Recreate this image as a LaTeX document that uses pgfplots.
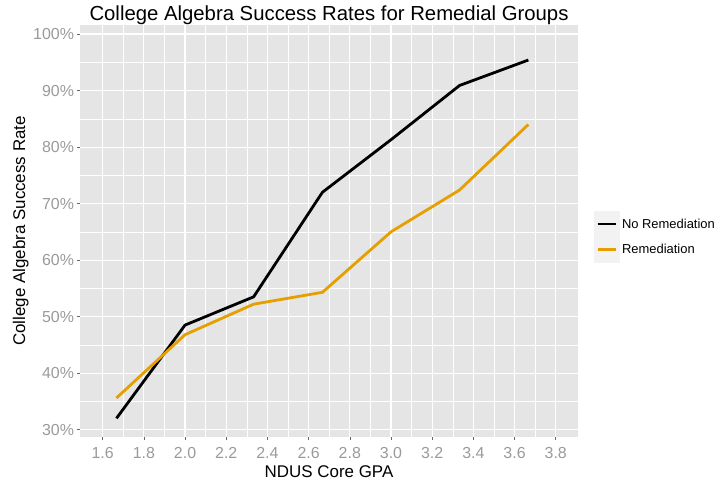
\documentclass[border=0pt]{standalone}
\usepackage{pgfplots}
\pgfplotsset{compat=1.18}
\usepackage{fontspec}
\setmainfont{Liberation Sans}
\definecolor{panel}{HTML}{E5E5E5}
\definecolor{tickgray}{HTML}{9A9A9A}
\definecolor{orng}{HTML}{E69F00}
\definecolor{keybg}{HTML}{F2F2F2}
\begin{document}
\begin{tikzpicture}[x=1bp,y=1bp]
\path[use as bounding box] (0,0) rectangle (717,483);
\begin{axis}[
  at={(80bp,46bp)}, anchor=south west,
  width=498bp, height=412bp, scale only axis,
  xmin=1.49, xmax=3.908, ymin=28.7, ymax=101.6,
  axis background/.style={fill=panel},
  axis line style={draw=none},
  xtick={1.6,1.8,2.0,2.2,2.4,2.6,2.8,3.0,3.2,3.4,3.6,3.8},
  minor xtick={1.7,1.9,2.1,2.3,2.5,2.7,2.9,3.1,3.3,3.5,3.7},
  ytick={30,40,50,60,70,80,90,100},
  minor ytick={35,45,55,65,75,85,95},
  grid=both,
  major grid style={white, line width=1.1bp},
  minor grid style={white, line width=0.5bp},
  major tick length=3bp, minor tick length=0pt,
  tick align=outside, tick pos=left,
  tick style={color=black!60, line width=0.6bp},
  /pgf/number format/assume math mode=true,
  xticklabel={\pgfmathprintnumber[fixed,fixed zerofill,precision=1]{\tick}},
  yticklabel={\pgfmathprintnumber[fixed,precision=0]{\tick}\%},
  xticklabel style={font=\fontsize{16}{17}\selectfont, color=tickgray, yshift=-4bp},
  yticklabel style={font=\fontsize{16}{17}\selectfont, color=tickgray, xshift=0.5bp},
  title={College Algebra Success Rates for Remedial Groups},
  title style={at={(axis description cs:0.5,1)}, anchor=base, yshift=-1bp, font=\fontsize{20.4}{22}\selectfont},
  xlabel={NDUS Core GPA},
  xlabel style={at={(axis description cs:0.5,0)}, anchor=base, yshift=-40.3bp, font=\fontsize{17}{18}\selectfont},
  ylabel={College Algebra Success Rate},
  ylabel style={at={(axis description cs:0,0.5)}, anchor=base, yshift=55bp, font=\fontsize{17}{18}\selectfont},
  legend cell align=left,
  legend style={at={(1,0.5)}, anchor=west, xshift=16bp, yshift=-6bp, draw=none, fill=none,
    font=\fontsize{13}{14}\selectfont, row sep=0bp, inner sep=0pt,
    /tikz/every even column/.append style={column sep=4bp}},
  legend image code/.code={\fill[keybg] (0bp,-11.5bp) rectangle (23bp,11.5bp); \draw[#1] (2bp,0bp) -- (20bp,0bp);},
]
\addplot[black, line width=2.8bp] coordinates {
(1.667,32.0) (2.0,48.5) (2.333,53.5) (2.667,72.0) (3.0,81.3) (3.333,90.9) (3.667,95.4)};
\addlegendentry{No Remediation}
\addplot[orng, line width=2.8bp] coordinates {
(1.667,35.6) (2.0,46.8) (2.333,52.2) (2.667,54.3) (3.0,65.0) (3.333,72.4) (3.667,84.0)};
\addlegendentry{Remediation}
\end{axis}
\end{tikzpicture}
\end{document}
